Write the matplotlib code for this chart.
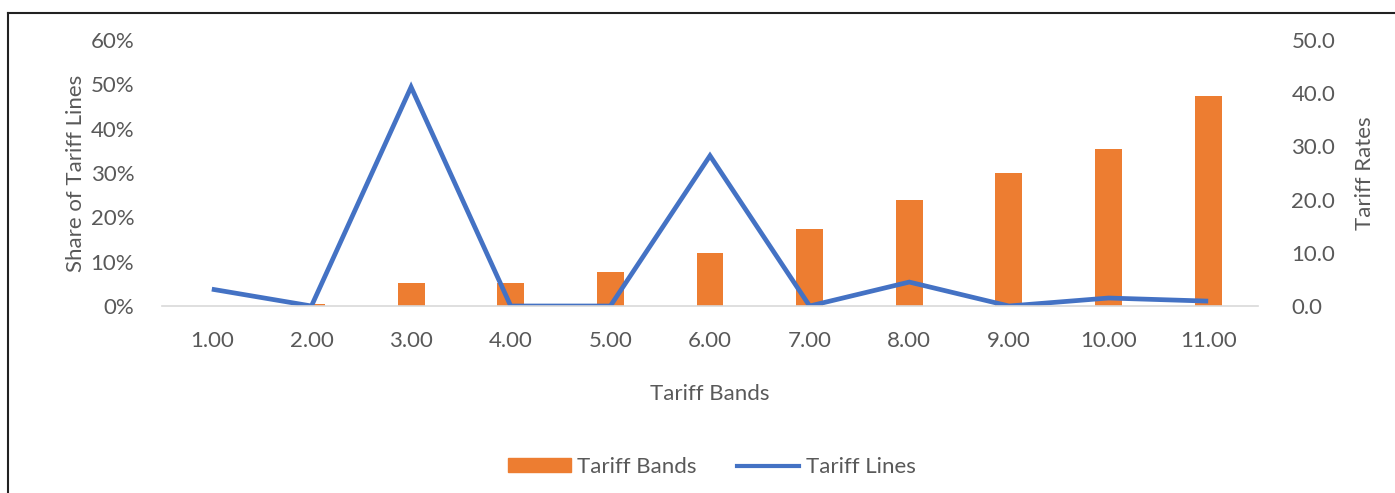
import numpy as np
import matplotlib.pyplot as plt
from matplotlib.lines import Line2D
from matplotlib.patches import Patch
from matplotlib.ticker import PercentFormatter, FormatStrFormatter

plt.rcParams['font.family'] = ['Lato', 'DejaVu Sans']

# data
bands = ['1.00', '2.00', '3.00', '4.00', '5.00', '6.00', '7.00', '8.00', '9.00', '10.00', '11.00']
tariff_rates = [0.0, 0.3, 4.3, 4.3, 6.4, 9.9, 14.4, 19.9, 25.0, 29.5, 39.4]   # bars, right axis
line_share = [3.8, 0.0, 49.4, 0.0, 0.0, 33.9, 0.0, 5.4, 0.0, 1.8, 1.1]        # line, left axis (%)

orange = '#ED7D31'
blue = '#4472C4'
grey = '#595959'
fs = 16

fig = plt.figure(figsize=(13.95, 4.93), dpi=100)
ax = fig.add_axes([162 / 1395, 187 / 493, (1258 - 162) / 1395, 266 / 493])
ax2 = ax.twinx()

x = np.arange(len(bands))

# bars on the right axis
ax2.bar(x, tariff_rates, width=0.27, color=orange)
ax2.set_ylim(0, 50)
ax2.set_yticks(np.arange(0, 51, 10))
ax2.yaxis.set_major_formatter(FormatStrFormatter('%.1f'))
ax2.set_ylabel('Tariff Rates', fontsize=fs, color=grey, labelpad=14)

# line on the left axis, drawn above the bars
ax.set_zorder(ax2.get_zorder() + 1)
ax.patch.set_visible(False)
ax.plot(x, line_share, color=blue, lw=3.4, solid_joinstyle='miter', solid_capstyle='butt')
ax.set_ylim(0, 60)
ax.set_yticks(np.arange(0, 61, 10))
ax.yaxis.set_major_formatter(PercentFormatter(decimals=0))
ax.set_ylabel('Share of Tariff Lines', fontsize=fs, color=grey, labelpad=3)
ax.set_xlim(-0.5, len(bands) - 0.5)
ax.set_xticks(x)
ax.set_xticklabels(bands)
ax.set_xlabel('Tariff Bands', fontsize=fs, color=grey, labelpad=24)

for a in (ax, ax2):
    for s in a.spines.values():
        s.set_visible(False)
    a.tick_params(length=0, labelsize=fs, colors=grey)
ax.tick_params(axis='y', pad=20)
ax.tick_params(axis='x', pad=18)
ax2.tick_params(axis='y', pad=24)
ax.spines['bottom'].set_visible(True)
ax.spines['bottom'].set_color('#D9D9D9')
ax.spines['bottom'].set_linewidth(1.2)

handles = [Patch(color=orange, label='Tariff Bands'),
           Line2D([0], [0], color=blue, lw=3, label='Tariff Lines')]
fig.legend(handles=handles, loc='center', bbox_to_anchor=(712 / 1395, 1 - 467 / 493),
           ncol=2, frameon=False, fontsize=fs, labelcolor=grey,
           handlelength=2.8, handleheight=0.6, columnspacing=1.8, handletextpad=0.3)

# frame lines along the top and left of the picture
fig.add_artist(Line2D([8 / 1395, 1], [1 - 13 / 493, 1 - 13 / 493], color='#222222', lw=1.5))
fig.add_artist(Line2D([8 / 1395, 8 / 1395], [0, 1 - 13 / 493], color='#222222', lw=1.5))

fig.savefig('out.png', dpi=100)
